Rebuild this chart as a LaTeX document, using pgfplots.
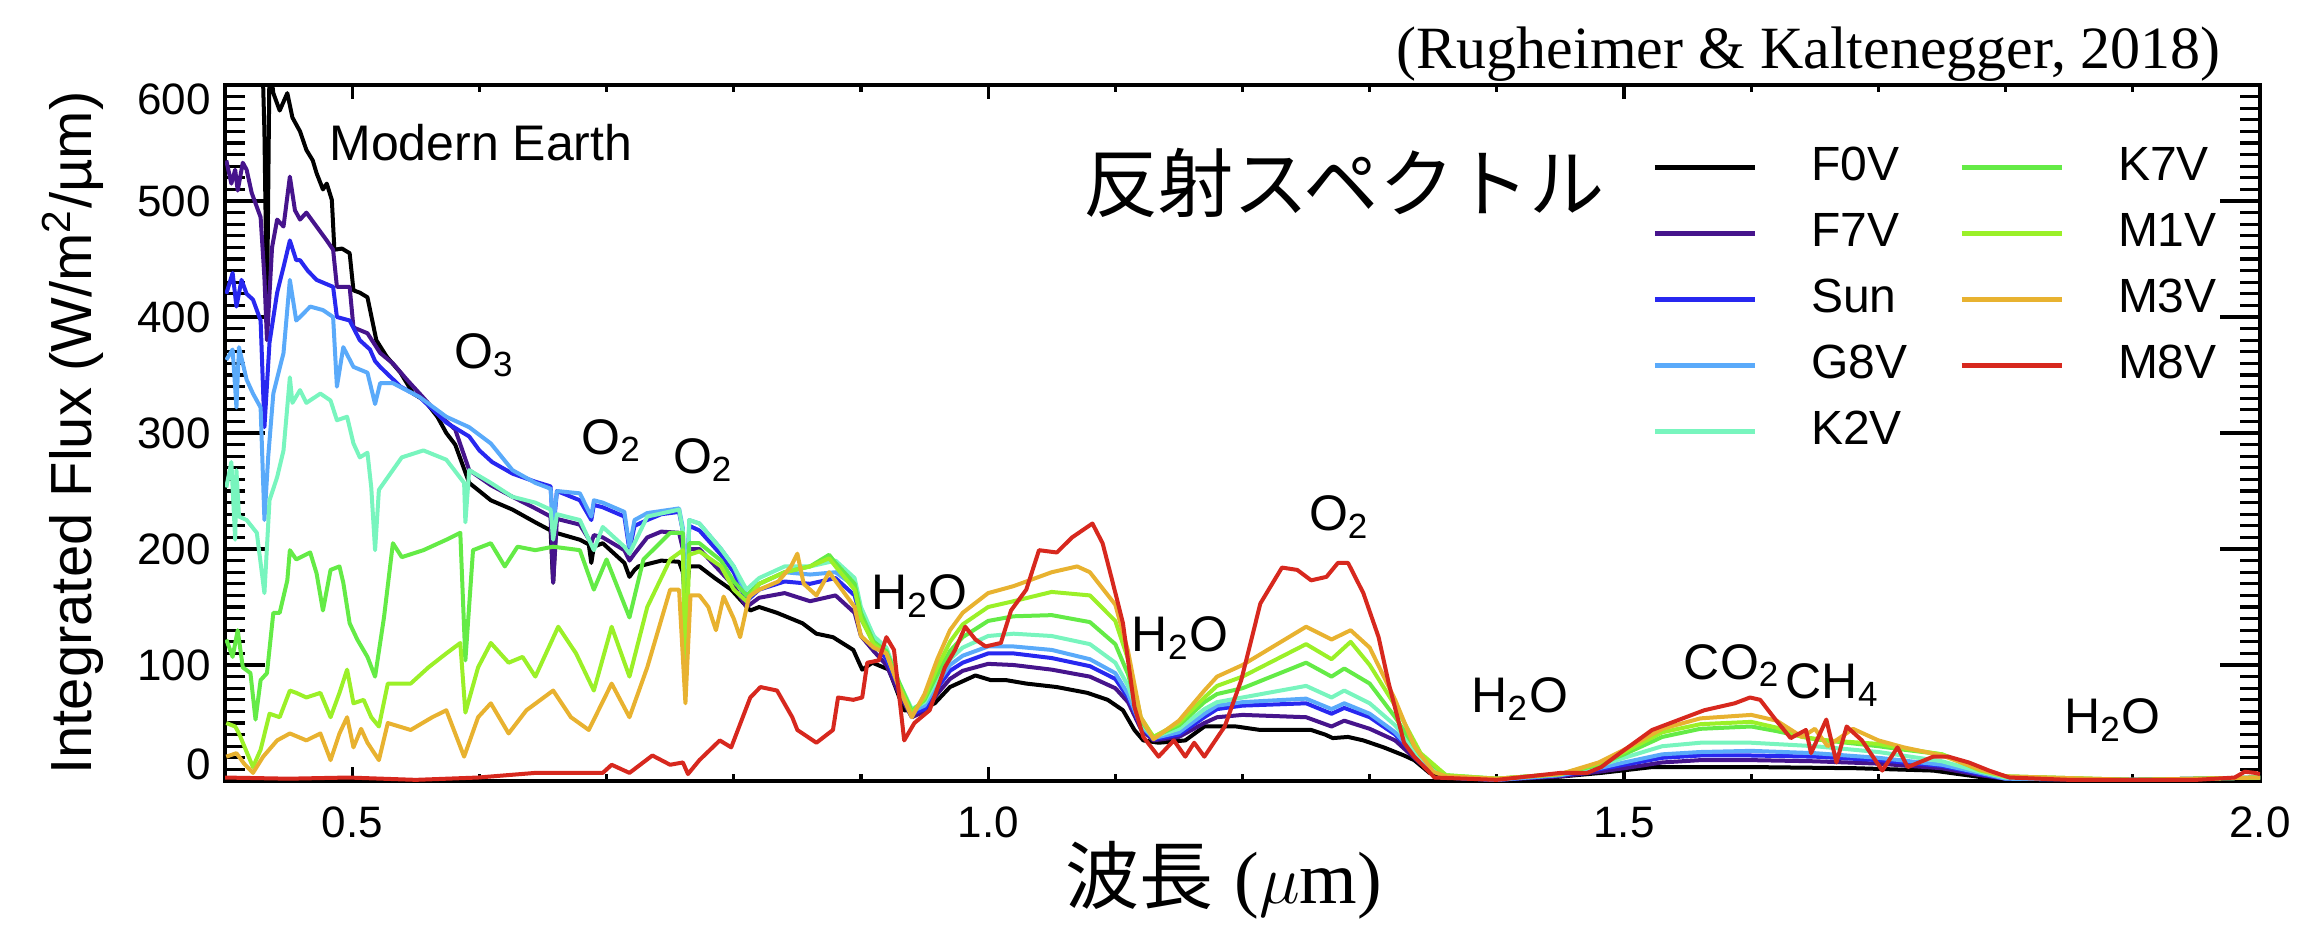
\documentclass[border=0pt]{standalone}
\usepackage{pgfplots}
\pgfplotsset{compat=1.18}
\usepackage{fontspec}
\setmainfont{Liberation Sans}
\newfontfamily\timesfont{Liberation Serif}
\newfontfamily\jpfont{Noto Sans CJK JP}

\definecolor{cF0V}{RGB}{0,0,0}
\definecolor{cF7V}{RGB}{70,20,140}
\definecolor{cSun}{RGB}{40,40,240}
\definecolor{cG8V}{RGB}{90,170,250}
\definecolor{cK2V}{RGB}{120,245,190}
\definecolor{cK7V}{RGB}{100,235,70}
\definecolor{cM1V}{RGB}{155,240,40}
\definecolor{cM3V}{RGB}{232,178,48}
\definecolor{cM8V}{RGB}{215,40,30}
\tikzset{lab/.style={font=\fontsize{12.5}{14}\selectfont, anchor=mid}}

\begin{document}
\begin{tikzpicture}
\path[use as bounding box] (0,0) rectangle (575pt,231.25pt);
\begin{axis}[
  at={(56.25pt,36pt)}, anchor=south west,
  scale only axis, width=508.75pt, height=174pt,
  xmin=0.4, xmax=2.0, ymin=0, ymax=600,
  xtick={0.5,1.0,1.5,2.0}, minor x tick num=4,
  ytick={0,100,...,600}, minor y tick num=9,
  yticklabels={{},100,200,300,400,500,{}},
  tick align=inside,
  axis line style={line width=1pt},
  every tick/.style={black, line width=0.8pt},
  xtick style={/pgfplots/major tick length=3.5pt,/pgfplots/minor tick length=1.8pt},
  ytick style={/pgfplots/major tick length=10pt,/pgfplots/minor tick length=5pt},
  tick label style={font=\fontsize{11}{13}\selectfont},
  /pgf/number format/assume math mode=true,
  xticklabel style={/pgf/number format/.cd, fixed, fixed zerofill, precision=1, /tikz/.cd, yshift=-3pt},
  legend columns=2,
  legend cell align=left,
  legend image code/.code={\draw[#1, line width=1.2pt] (0pt,0pt) -- (25pt,0pt);},
  legend style={draw=none, fill=none, at={(0.985,0.927)}, anchor=north east,
    font=\fontsize{12}{14}\selectfont, row sep=5pt,
    nodes={inner sep=0pt, text height=9pt, text depth=2.5pt},
    /tikz/every odd column/.append style={column sep=13.5pt},
    /tikz/every even column/.append style={column sep=13pt}},
  every axis plot/.append style={line width=1pt, line join=round},
]
% F0V
\addplot[cF0V, forget plot] coordinates {(0.400,700)(0.420,700)(0.428,680)(0.431,560)(0.433,400)(0.435,620)(0.438,593)(0.443,578)(0.449,593)(0.453,572)(0.459,560)(0.464,544)(0.469,535)(0.472,524)(0.477,510)(0.480,515)(0.484,501)(0.486,458)(0.492,459)(0.498,455)(0.501,423)(0.506,421)(0.512,417)(0.519,380)(0.527,366)(0.538,352)(0.548,334)(0.557,328)(0.567,314)(0.574,300)(0.581,290)(0.592,257)(0.600,250)(0.609,242)(0.626,234)(0.644,223)(0.656,216)(0.658,171)(0.660,214)(0.679,208)(0.686,204)(0.688,188)(0.690,202)(0.697,205)(0.714,188)(0.718,176)(0.722,182)(0.725,185)(0.743,190)(0.757,189)(0.760,180)(0.762,150)(0.765,185)(0.773,185)(0.785,175)(0.798,165)(0.813,147)(0.820,150)(0.834,145)(0.854,136)(0.865,127)(0.878,124)(0.894,113)(0.901,96)(0.909,102)(0.922,96)(0.934,61)(0.946,61)(0.958,67)(0.970,81)(0.982,87)(0.990,91)(1.002,87)(1.014,87)(1.030,84)(1.054,81)(1.078,76)(1.094,70)(1.106,61)(1.115,44)(1.122,35)(1.134,33)(1.155,35)(1.170,47)(1.195,47)(1.214,44)(1.254,44)(1.265,40)(1.271,37)(1.283,38)(1.295,35)(1.311,29)(1.327,22)(1.335,18)(1.347,7)(1.359,3)(1.400,1)(1.442,3)(1.482,7)(1.498,9)(1.522,12)(1.563,12)(1.603,12)(1.683,11)(1.743,9)(1.783,3)(1.803,1)(1.900,1)(2.000,2)};
% F7V
\addplot[cF7V, forget plot] coordinates {(0.401,535)(0.405,515)(0.408,527)(0.410,509)(0.414,533)(0.417,527)(0.421,507)(0.428,486)(0.431,434)(0.433,380)(0.435,420)(0.437,460)(0.441,484)(0.446,478)(0.451,521)(0.455,492)(0.459,484)(0.464,490)(0.472,478)(0.480,466)(0.485,458)(0.488,426)(0.498,426)(0.501,391)(0.512,386)(0.522,369)(0.532,360)(0.543,346)(0.553,334)(0.567,317)(0.581,303)(0.592,268)(0.609,255)(0.626,245)(0.644,235)(0.656,228)(0.658,171)(0.661,226)(0.679,221)(0.688,205)(0.690,212)(0.697,210)(0.714,199)(0.718,190)(0.722,196)(0.732,210)(0.743,215)(0.757,214)(0.760,200)(0.762,145)(0.765,200)(0.773,200)(0.790,180)(0.800,168)(0.810,150)(0.820,158)(0.840,162)(0.860,155)(0.880,160)(0.895,145)(0.900,125)(0.910,112)(0.920,100)(0.930,75)(0.940,55)(0.950,60)(0.960,75)(0.970,88)(0.980,95)(1.000,101)(1.020,100)(1.050,96)(1.080,90)(1.100,80)(1.110,68)(1.120,45)(1.130,35)(1.150,38)(1.170,50)(1.180,55)(1.200,57)(1.250,55)(1.270,47)(1.280,52)(1.300,45)(1.320,35)(1.340,15)(1.360,3)(1.400,1)(1.450,4)(1.480,8)(1.500,11)(1.530,16)(1.560,18)(1.600,18)(1.650,17)(1.700,15)(1.750,11)(1.780,5)(1.800,2)(1.900,1)(2.000,3)};
% Sun
\addplot[cSun, forget plot] coordinates {(0.401,420)(0.406,438)(0.409,409)(0.413,432)(0.417,420)(0.422,415)(0.428,397)(0.431,305)(0.435,378)(0.441,421)(0.446,443)(0.451,466)(0.456,449)(0.459,449)(0.465,440)(0.472,432)(0.485,426)(0.488,400)(0.498,397)(0.506,380)(0.514,372)(0.518,362)(0.522,357)(0.538,340)(0.553,331)(0.574,309)(0.592,297)(0.600,285)(0.610,275)(0.626,265)(0.644,258)(0.656,254)(0.658,215)(0.661,250)(0.679,242)(0.688,225)(0.690,238)(0.697,236)(0.714,228)(0.718,199)(0.722,220)(0.732,225)(0.743,230)(0.757,232)(0.760,215)(0.762,140)(0.765,220)(0.773,216)(0.790,195)(0.800,180)(0.810,155)(0.820,165)(0.840,172)(0.860,170)(0.880,175)(0.895,160)(0.900,140)(0.910,120)(0.920,105)(0.930,80)(0.940,58)(0.950,62)(0.960,80)(0.970,95)(0.980,102)(1.000,110)(1.020,110)(1.050,106)(1.080,99)(1.100,88)(1.110,72)(1.120,47)(1.130,36)(1.150,40)(1.170,55)(1.180,62)(1.200,65)(1.250,67)(1.270,58)(1.280,63)(1.300,55)(1.320,40)(1.340,17)(1.360,3)(1.400,1)(1.450,5)(1.480,10)(1.500,14)(1.530,20)(1.560,22)(1.600,22)(1.650,21)(1.700,18)(1.750,13)(1.780,6)(1.800,2)(1.900,1)(2.000,3)};
% G8V
\addplot[cG8V, forget plot] coordinates {(0.401,363)(0.406,372)(0.409,322)(0.411,374)(0.417,346)(0.422,334)(0.428,322)(0.431,225)(0.434,280)(0.438,334)(0.446,369)(0.451,432)(0.456,397)(0.459,400)(0.467,409)(0.477,406)(0.485,400)(0.488,340)(0.493,374)(0.501,357)(0.512,352)(0.518,325)(0.522,343)(0.532,343)(0.553,331)(0.574,314)(0.592,305)(0.609,291)(0.626,268)(0.644,257)(0.656,252)(0.658,220)(0.661,250)(0.679,248)(0.688,228)(0.690,242)(0.697,240)(0.714,232)(0.718,202)(0.722,225)(0.732,231)(0.757,235)(0.760,218)(0.762,130)(0.765,225)(0.773,222)(0.790,200)(0.800,185)(0.810,160)(0.820,170)(0.840,180)(0.860,178)(0.880,180)(0.895,168)(0.900,145)(0.910,125)(0.920,110)(0.930,82)(0.940,60)(0.950,65)(0.960,84)(0.970,100)(0.980,108)(1.000,116)(1.020,116)(1.050,113)(1.080,105)(1.100,93)(1.110,75)(1.120,48)(1.130,37)(1.150,42)(1.170,58)(1.180,65)(1.200,68)(1.250,71)(1.270,62)(1.280,67)(1.300,58)(1.320,42)(1.340,18)(1.360,3)(1.400,1)(1.450,5)(1.480,11)(1.500,16)(1.530,23)(1.560,25)(1.600,26)(1.650,24)(1.700,20)(1.750,14)(1.780,7)(1.800,2)(1.900,1)(2.000,3)};
% K2V
\addplot[cK2V, forget plot] coordinates {(0.401,253)(0.405,275)(0.408,208)(0.409,268)(0.411,228)(0.417,225)(0.425,214)(0.431,162)(0.435,242)(0.441,262)(0.446,285)(0.451,348)(0.453,326)(0.459,337)(0.464,326)(0.475,334)(0.483,328)(0.488,311)(0.496,314)(0.501,291)(0.506,279)(0.512,283)(0.515,253)(0.518,199)(0.521,251)(0.539,279)(0.556,285)(0.574,277)(0.588,257)(0.589,223)(0.592,268)(0.609,257)(0.626,245)(0.644,240)(0.656,234)(0.658,208)(0.661,230)(0.679,225)(0.690,199)(0.697,219)(0.714,202)(0.718,196)(0.732,228)(0.757,234)(0.760,215)(0.762,95)(0.765,225)(0.773,222)(0.790,200)(0.800,185)(0.810,165)(0.820,175)(0.840,185)(0.860,185)(0.880,190)(0.895,175)(0.900,150)(0.910,125)(0.920,115)(0.930,85)(0.940,62)(0.950,68)(0.960,88)(0.970,105)(0.980,115)(1.000,125)(1.020,127)(1.050,125)(1.080,118)(1.100,102)(1.110,82)(1.120,50)(1.130,38)(1.150,45)(1.170,62)(1.180,68)(1.200,72)(1.250,82)(1.270,72)(1.280,78)(1.300,67)(1.320,48)(1.340,20)(1.360,4)(1.400,2)(1.450,6)(1.480,13)(1.500,20)(1.530,30)(1.560,33)(1.600,33)(1.650,30)(1.700,25)(1.750,17)(1.780,8)(1.800,3)(1.900,1)(2.000,3)};
% K7V
\addplot[cK7V, forget plot] coordinates {(0.401,122)(0.406,107)(0.410,130)(0.414,98)(0.420,93)(0.424,53)(0.428,87)(0.433,93)(0.438,145)(0.443,145)(0.449,173)(0.451,199)(0.456,191)(0.467,197)(0.472,179)(0.477,147)(0.483,182)(0.490,185)(0.493,171)(0.498,136)(0.504,122)(0.512,107)(0.518,90)(0.525,141)(0.532,205)(0.539,193)(0.556,199)(0.574,208)(0.585,214)(0.589,104)(0.595,199)(0.609,205)(0.620,185)(0.630,202)(0.644,199)(0.658,202)(0.679,199)(0.690,165)(0.700,191)(0.718,141)(0.729,191)(0.750,214)(0.760,214)(0.762,90)(0.765,205)(0.773,205)(0.790,190)(0.800,172)(0.810,160)(0.820,170)(0.840,180)(0.860,185)(0.875,195)(0.880,188)(0.895,170)(0.900,145)(0.910,120)(0.920,112)(0.930,85)(0.940,60)(0.950,70)(0.960,92)(0.970,112)(0.980,124)(1.000,138)(1.020,142)(1.050,143)(1.080,137)(1.100,118)(1.110,92)(1.120,52)(1.130,38)(1.150,48)(1.170,68)(1.180,75)(1.200,80)(1.250,102)(1.270,90)(1.280,97)(1.300,84)(1.320,55)(1.340,22)(1.360,5)(1.400,2)(1.450,6)(1.480,14)(1.500,23)(1.530,38)(1.560,45)(1.600,47)(1.620,43)(1.650,36)(1.700,30)(1.720,27)(1.750,23)(1.780,10)(1.800,4)(1.900,1)(2.000,3)};
% M1V
\addplot[cM1V, forget plot] coordinates {(0.401,50)(0.408,47)(0.411,41)(0.422,12)(0.428,27)(0.435,58)(0.443,55)(0.451,78)(0.456,76)(0.464,72)(0.475,76)(0.483,55)(0.490,76)(0.496,96)(0.501,67)(0.509,70)(0.515,55)(0.521,47)(0.528,84)(0.546,84)(0.560,98)(0.574,110)(0.585,119)(0.589,59)(0.599,98)(0.609,119)(0.623,102)(0.634,107)(0.644,90)(0.662,133)(0.676,110)(0.690,78)(0.704,133)(0.718,90)(0.732,150)(0.750,191)(0.760,199)(0.762,90)(0.765,195)(0.773,198)(0.790,185)(0.800,165)(0.810,155)(0.820,170)(0.840,180)(0.860,185)(0.875,192)(0.880,185)(0.895,165)(0.900,140)(0.910,118)(0.920,110)(0.930,82)(0.940,58)(0.950,72)(0.960,98)(0.970,120)(0.980,135)(1.000,150)(1.020,155)(1.050,163)(1.080,160)(1.100,138)(1.110,105)(1.120,55)(1.130,38)(1.150,50)(1.170,72)(1.180,82)(1.200,90)(1.250,118)(1.270,105)(1.285,120)(1.300,100)(1.320,65)(1.340,24)(1.360,5)(1.400,2)(1.450,6)(1.480,15)(1.500,25)(1.530,42)(1.560,49)(1.600,51)(1.620,46)(1.640,38)(1.660,35)(1.700,32)(1.720,28)(1.750,23)(1.780,9)(1.800,4)(1.900,1)(2.000,3)};
% M3V
\addplot[cM3V, forget plot] coordinates {(0.401,21)(0.409,24)(0.415,15)(0.422,7)(0.430,21)(0.441,35)(0.451,41)(0.464,35)(0.475,41)(0.483,18)(0.490,41)(0.496,55)(0.501,29)(0.507,45)(0.512,33)(0.521,18)(0.528,50)(0.546,44)(0.563,55)(0.574,61)(0.588,21)(0.599,55)(0.609,67)(0.623,41)(0.637,61)(0.658,78)(0.672,55)(0.686,44)(0.704,84)(0.718,55)(0.732,98)(0.750,165)(0.757,165)(0.762,67)(0.766,160)(0.773,160)(0.780,150)(0.786,130)(0.792,159)(0.800,140)(0.805,124)(0.812,159)(0.820,165)(0.835,172)(0.845,185)(0.850,196)(0.855,170)(0.865,160)(0.875,180)(0.885,165)(0.895,150)(0.900,125)(0.910,115)(0.920,110)(0.930,80)(0.940,55)(0.950,75)(0.960,105)(0.970,130)(0.980,145)(1.000,162)(1.020,168)(1.050,180)(1.070,185)(1.080,180)(1.100,152)(1.110,112)(1.120,55)(1.130,36)(1.150,52)(1.170,78)(1.180,90)(1.200,100)(1.250,133)(1.270,122)(1.285,130)(1.300,115)(1.320,70)(1.335,30)(1.350,8)(1.360,4)(1.400,2)(1.450,6)(1.480,16)(1.500,27)(1.530,45)(1.560,54)(1.600,57)(1.620,52)(1.640,38)(1.650,45)(1.660,30)(1.680,45)(1.700,35)(1.720,29)(1.750,22)(1.780,10)(1.800,4)(1.900,1)(2.000,3)};
% M8V
\addplot[cM8V, forget plot] coordinates {(0.400,3)(0.450,2)(0.497,3)(0.550,1)(0.599,3)(0.644,7)(0.697,7)(0.704,14)(0.718,7)(0.736,22)(0.750,14)(0.760,16)(0.764,6)(0.773,18)(0.789,35)(0.798,29)(0.813,72)(0.821,81)(0.834,78)(0.846,55)(0.850,44)(0.865,33)(0.878,44)(0.882,72)(0.894,70)(0.901,72)(0.905,102)(0.914,104)(0.920,124)(0.926,113)(0.934,35)(0.942,50)(0.954,61)(0.966,98)(0.974,113)(0.982,133)(0.990,122)(0.998,116)(1.010,119)(1.018,147)(1.030,165)(1.040,199)(1.054,197)(1.066,210)(1.078,219)(1.082,222)(1.090,205)(1.098,171)(1.106,136)(1.115,64)(1.122,38)(1.134,21)(1.146,35)(1.155,21)(1.162,33)(1.170,21)(1.186,47)(1.199,87)(1.207,122)(1.214,153)(1.231,184)(1.243,182)(1.254,173)(1.266,176)(1.275,188)(1.283,188)(1.295,162)(1.307,124)(1.315,84)(1.327,33)(1.335,21)(1.351,3)(1.400,1)(1.450,7)(1.471,7)(1.482,12)(1.498,25)(1.522,44)(1.563,61)(1.587,67)(1.599,72)(1.607,70)(1.619,53)(1.631,37)(1.643,44)(1.647,24)(1.659,53)(1.667,16)(1.675,47)(1.687,35)(1.703,9)(1.715,29)(1.723,12)(1.743,21)(1.755,21)(1.771,16)(1.787,9)(1.803,3)(1.850,1)(1.950,1)(1.980,3)(1.988,8)(1.996,7)(2.000,6)};

\addlegendimage{cF0V}\addlegendentry{F0V}
\addlegendimage{cK7V}\addlegendentry{K7V}
\addlegendimage{cF7V}\addlegendentry{F7V}
\addlegendimage{cM1V}\addlegendentry{M1V}
\addlegendimage{cSun}\addlegendentry{Sun}
\addlegendimage{cM3V}\addlegendentry{M3V}
\addlegendimage{cG8V}\addlegendentry{G8V}
\addlegendimage{cM8V}\addlegendentry{M8V}
\addlegendimage{cK2V}\addlegendentry{K2V}

\node[lab, anchor=west] at (axis cs:0.471,550) {Modern Earth};
\node[lab] at (axis cs:0.604,365) {O\textsubscript{3}};
\node[lab] at (axis cs:0.704,291) {O\textsubscript{2}};
\node[lab] at (axis cs:0.776,274) {O\textsubscript{2}};
\node[lab] at (axis cs:0.946,157) {H\textsubscript{2}O};
\node[lab] at (axis cs:1.151,121) {H\textsubscript{2}O};
\node[lab] at (axis cs:1.276,225) {O\textsubscript{2}};
\node[lab] at (axis cs:1.418,68) {H\textsubscript{2}O};
\node[lab] at (axis cs:1.585,97) {CO\textsubscript{2}};
\node[lab] at (axis cs:1.664,80) {CH\textsubscript{4}};
\node[lab] at (axis cs:1.884,50) {H\textsubscript{2}O};
\end{axis}
\node[anchor=east, font=\fontsize{11}{13}\selectfont] at (56.25pt,40.25pt) {0};
\node[anchor=east, font=\fontsize{11}{13}\selectfont] at (56.25pt,206.5pt) {600};
\node[anchor=base east, font=\timesfont\fontsize{15}{17}\selectfont] at (558.75pt,214.25pt) {(Rugheimer \& Kaltenegger, 2018)};
\node[font=\jpfont\fontsize{18.8}{20}\selectfont] at (336pt,185.5pt) {反射スペクトル};
\node[font=\fontsize{18.5}{20}\selectfont] at (306pt,11.25pt) {{\jpfont 波長} {\timesfont(}$\mu${\timesfont m)}};
\node[rotate=90, font=\fontsize{14.5}{16}\selectfont] at (18.25pt,123pt) {Integrated Flux (W/m\textsuperscript{2}/µm)};
\end{tikzpicture}
\end{document}
